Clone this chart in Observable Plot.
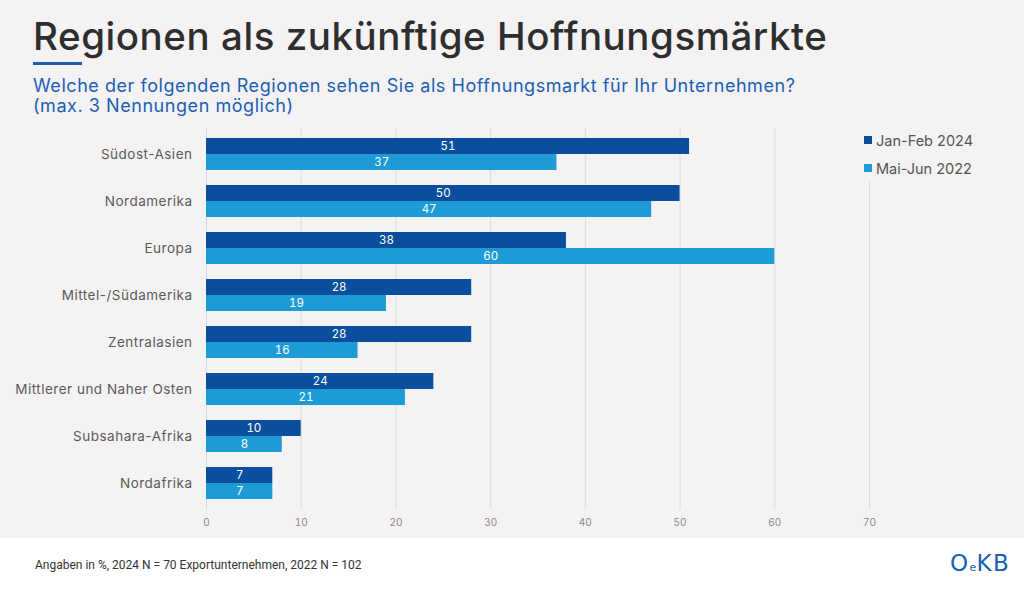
<!DOCTYPE html>
<html>
<head>
<meta charset="utf-8">
<script src="https://cdn.jsdelivr.net/npm/d3@7"></script>
<script src="https://cdn.jsdelivr.net/npm/@observablehq/plot@0.6"></script>
<style>
  html, body { margin: 0; padding: 0; }
  body { width: 1024px; height: 589px; overflow: hidden; font-family: "Inter", "Noto Sans", sans-serif; }
  #page { position: relative; width: 1024px; height: 589px; background: #f4f2f3; }
  #footer { position: absolute; left: 0; top: 538px; width: 1024px; height: 51px; background: #ffffff; }
  #title { position: absolute; left: 33px; top: 13px; font-size: 38.5px; font-weight: 500; color: #2e2e2e; letter-spacing: 0.55px; white-space: nowrap; }
  #rule { position: absolute; left: 33px; top: 62px; width: 49px; height: 3px; background: #1a5fb4; }
  #subtitle { position: absolute; left: 33px; top: 76px; font-size: 18px; line-height: 20px; color: #1a5fb4; letter-spacing: 0.55px; white-space: nowrap; }
  #chart { position: absolute; left: 0; top: 110px; }
  #legend { position: absolute; left: 860px; top: 126px; width: 140px; height: 56px; background: #f4f2f3; font-size: 14.5px; color: #555; }
  .li { display: flex; align-items: center; height: 28px; }
  .sw { width: 8px; height: 8px; margin-right: 4px; margin-left: 4px; }
  #note { position: absolute; left: 35px; top: 558px; font-family: "Roboto", sans-serif; font-size: 12px; color: #333; white-space: nowrap; }
  #logo { position: absolute; left: 950px; top: 550px; font-family: "DejaVu Sans", sans-serif; font-size: 23px; color: #1a5fb4; letter-spacing: 1.5px; white-space: nowrap; }
  #logo .e { font-size: 11px; letter-spacing: 0; }
</style>
</head>
<body>
<div id="page">
  <div id="footer"></div>
  <div id="title">Regionen als zukünftige Hoffnungsmärkte</div>
  <div id="rule"></div>
  <div id="subtitle">Welche der folgenden Regionen sehen Sie als Hoffnungsmarkt für Ihr Unternehmen?<br>(max. 3 Nennungen möglich)</div>
  <div id="chart"></div>
  <div id="legend"></div>
  <div id="note">Angaben in %, 2024 N = 70 Exportunternehmen, 2022 N = 102</div>
  <div id="logo">O<span class="e">e</span>KB</div>
</div>
<script>
const regions = ["Südost-Asien", "Nordamerika", "Europa", "Mittel-/Südamerika", "Zentralasien", "Mittlerer und Naher Osten", "Subsahara-Afrika", "Nordafrika"];
const jan2024 = [51, 50, 38, 28, 28, 24, 10, 7];
const mai2022 = [37, 47, 60, 19, 16, 21, 8, 7];
const seriesNames = ["Jan-Feb 2024", "Mai-Jun 2022"];
const seriesColors = ["#0a4f9e", "#1e9bd7"];
const xTicks = [0, 10, 20, 30, 40, 50, 60, 70];

const rows2024 = regions.map((r, i) => ({region: r, series: seriesNames[0], value: jan2024[i]}));
const rows2022 = regions.map((r, i) => ({region: r, series: seriesNames[1], value: mai2022[i]}));

const half = 16;
const chart = Plot.plot({
  width: 1024,
  height: 430,
  marginLeft: 206,
  marginRight: 155,
  marginTop: 11,
  marginBottom: 23.5,
  style: {background: "transparent", fontFamily: "Inter, 'Noto Sans', sans-serif"},
  x: {domain: [0, 70], axis: null, label: null},
  y: {domain: regions, padding: 0.326, axis: null, label: null},
  color: {domain: seriesNames, range: seriesColors},
  marks: [
    Plot.gridX(xTicks, {stroke: "#dcdadb", strokeOpacity: 1, insetTop: 7, insetBottom: 7}),
    Plot.barX(rows2024, {y: "region", x: "value", fill: "series", insetBottom: half}),
    Plot.barX(rows2022, {y: "region", x: "value", fill: "series", insetTop: half}),
    Plot.text(rows2024, {y: "region", x: d => d.value / 2, text: "value", dy: -half / 2, fill: "white", fontSize: 11.5, fontWeight: 400}),
    Plot.text(rows2022, {y: "region", x: d => d.value / 2, text: "value", dy: half / 2, fill: "white", fontSize: 11.5, fontWeight: 400}),
    Plot.axisX({ticks: xTicks, tickSize: 0, tickPadding: 2, fill: "#8a8a8a", fontSize: 10, label: null}),
    Plot.axisY({tickSize: 0, tickPadding: 14, fill: "#5a5a5a", fontSize: 13.5, label: null})
  ]
});
chart.querySelectorAll("g[aria-label='y-axis tick label'] text").forEach(t => t.style.letterSpacing = "0.5px");
document.getElementById("chart").appendChild(chart);

const legend = document.getElementById("legend");
seriesNames.forEach((s, i) => {
  const row = document.createElement("div");
  row.className = "li";
  const sw = document.createElement("span");
  sw.className = "sw";
  sw.style.background = seriesColors[i];
  const t = document.createElement("span");
  t.textContent = s;
  row.appendChild(sw);
  row.appendChild(t);
  legend.appendChild(row);
});
</script>
</body>
</html>
